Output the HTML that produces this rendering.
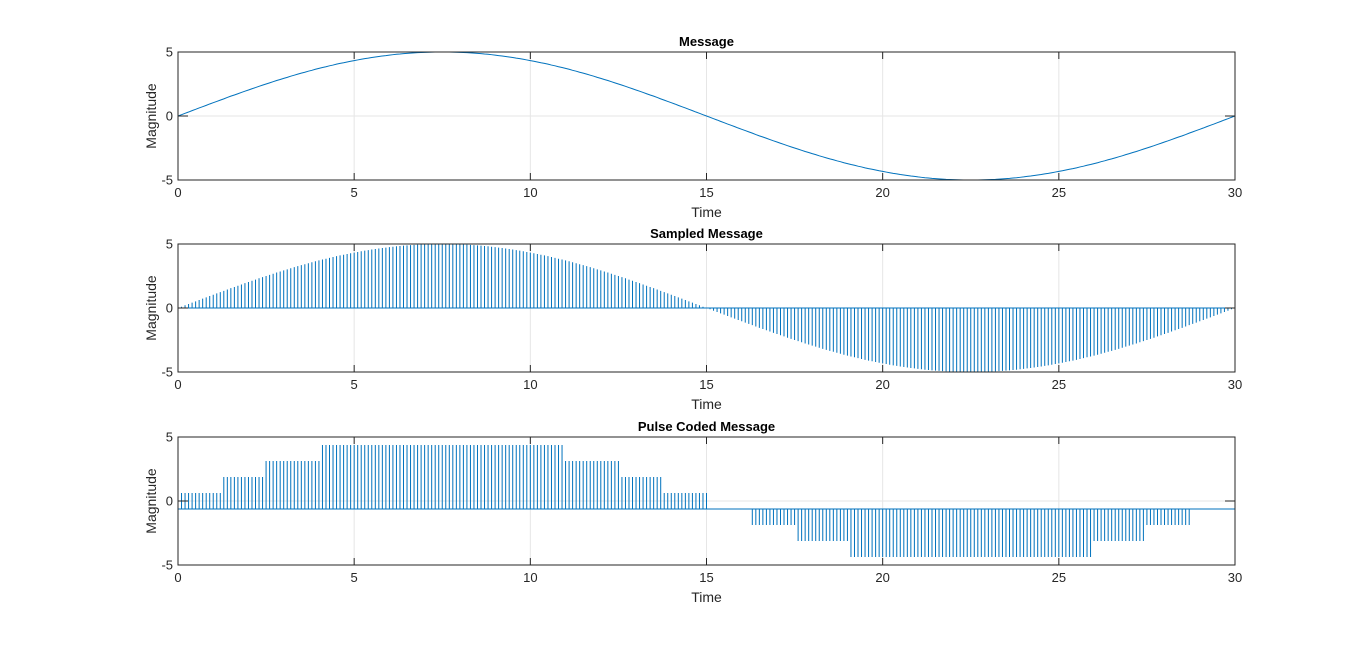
<!DOCTYPE html>
<html><head><meta charset="utf-8"><style>
body{margin:0;background:#fff;}
svg text{font-family:"Liberation Sans",Arial,sans-serif;}
</style></head><body>
<svg id="fig" width="1366" height="642" viewBox="0 0 1366 642" xmlns="http://www.w3.org/2000/svg"></svg>
<script>
const xTicks=[0,5,10,15,20,25,30];
const yTicks=[-5,0,5];
const sampleStep=0.1;
const firstHalf=[0,0.1,0.21,0.31,0.42,0.52,0.63,0.73,0.83,0.94,1.04,1.14,1.24,1.34,1.45,1.55,1.64,1.74,1.84,1.94,2.03,2.13,2.22,2.32,2.41,2.5,2.59,2.68,2.77,2.85,2.94,3.02,3.11,3.19,3.27,3.35,3.42,3.5,3.57,3.65,3.72,3.79,3.85,3.92,3.98,4.05,4.11,4.16,4.22,4.28,4.33,4.38,4.43,4.48,4.52,4.57,4.61,4.65,4.69,4.72,4.76,4.79,4.82,4.84,4.87,4.89,4.91,4.93,4.95,4.96,4.97,4.98,4.99,5,5,5,
5,5,4.99,4.98,4.97,4.96,4.95,4.93,4.91,4.89,4.87,4.84,4.82,4.79,4.76,4.72,4.69,4.65,4.61,4.57,4.52,4.48,4.43,4.38,4.33,4.28,4.22,4.16,4.11,4.05,3.98,3.92,3.85,3.79,3.72,3.65,3.57,3.5,3.42,3.35,3.27,3.19,3.11,3.02,2.94,2.85,2.77,2.68,2.59,2.5,2.41,2.32,2.22,2.13,2.03,1.94,1.84,1.74,1.64,1.55,1.45,1.34,1.24,1.14,1.04,0.94,0.83,0.73,0.63,0.52,0.42,0.31,0.21,0.1,0.001];
const secondHalf=[-0.1,-0.21,-0.31,-0.42,-0.52,-0.63,-0.73,-0.83,-0.94,-1.04,-1.14,-1.24,-1.34,-1.45,-1.55,-1.64,-1.74,-1.84,-1.94,-2.03,-2.13,-2.22,-2.32,-2.41,-2.5,-2.59,-2.68,-2.77,-2.85,-2.94,-3.02,-3.11,-3.19,-3.27,-3.35,-3.42,-3.5,-3.57,-3.65,-3.72,-3.79,-3.85,-3.92,-3.98,-4.05,-4.11,-4.16,-4.22,-4.28,-4.33,-4.38,-4.43,-4.48,-4.52,-4.57,-4.61,-4.65,-4.69,-4.72,-4.76,-4.79,-4.82,-4.84,-4.87,-4.89,-4.91,-4.93,-4.95,-4.96,-4.97,-4.98,-4.99,-5,-5,-5,
-5,-5,-4.99,-4.98,-4.97,-4.96,-4.95,-4.93,-4.91,-4.89,-4.87,-4.84,-4.82,-4.79,-4.76,-4.72,-4.69,-4.65,-4.61,-4.57,-4.52,-4.48,-4.43,-4.38,-4.33,-4.28,-4.22,-4.16,-4.11,-4.05,-3.98,-3.92,-3.85,-3.79,-3.72,-3.65,-3.57,-3.5,-3.42,-3.35,-3.27,-3.19,-3.11,-3.02,-2.94,-2.85,-2.77,-2.68,-2.59,-2.5,-2.41,-2.32,-2.22,-2.13,-2.03,-1.94,-1.84,-1.74,-1.64,-1.55,-1.45,-1.34,-1.24,-1.14,-1.04,-0.94,-0.83,-0.73,-0.63,-0.52,-0.42,-0.31,-0.21,-0.1,0];
const samples=firstHalf.concat(secondHalf);
const quantLevels=[-4.375,-3.125,-1.875,-0.625,0.625,1.875,3.125,4.375];
const pcmBaseline=-0.625;

const NS="http://www.w3.org/2000/svg";
const svg=document.getElementById('fig');
function mk(tag,attrs,parent){const e=document.createElementNS(NS,tag);for(const k in attrs)e.setAttribute(k,attrs[k]);(parent||svg).appendChild(e);return e;}
const X0=178,X1=1235;
function quant(v){let i=Math.floor((v+5)/1.25);i=Math.max(0,Math.min(7,i));return quantLevels[i];}
const pcm=samples.map(quant);

const panels=[
 {name:'message',title:'Message',top:52,type:'line',vals:samples,base:0},
 {name:'sampled',title:'Sampled Message',top:244,type:'stem',vals:samples,base:0},
 {name:'pcm',title:'Pulse Coded Message',top:437,type:'stem',vals:pcm,base:pcmBaseline}
];
panels.forEach(p=>{
 const top=p.top,bot=top+128;
 const xs=t=>X0+(t-0)/(30-0)*(X1-X0);
 const ys=v=>bot-(v+5)/10*(bot-top);
 const g=mk('g',{});
 
 
 mk('rect',{x:X0,y:top,width:X1-X0,height:bot-top,fill:'#fff'},g);
 xTicks.forEach(t=>{const l=mk('line',{x1:xs(t),x2:xs(t),y1:top,y2:bot,stroke:'#e6e6e6','stroke-width':1},g);});
 yTicks.forEach(v=>{const l=mk('line',{x1:X0,x2:X1,y1:ys(v),y2:ys(v),stroke:'#e6e6e6','stroke-width':1},g);});
 const dg=mk('g',{stroke:'#0072BD','stroke-width':1,fill:'none'},g);
 
 
 if(p.type==='line'){
  const pts=p.vals.map((v,i)=>xs(i*sampleStep).toFixed(2)+','+ys(v).toFixed(2)).join(' ');
  const pl=mk('polyline',{points:pts},dg);
  
  
 }else{
  let d='';
  p.vals.forEach((v,i)=>{const x=xs(i*sampleStep).toFixed(2);d+='M'+x+' '+ys(p.base).toFixed(2)+'V'+ys(v).toFixed(2);});
  const st=mk('path',{d:d},dg);
  
  
  const bl=mk('line',{x1:X0,x2:X1,y1:ys(p.base),y2:ys(p.base)},dg);
  
  
 }
 mk('rect',{x:X0,y:top,width:X1-X0,height:bot-top,fill:'none',stroke:'#262626','stroke-width':1},g);
 xTicks.forEach(t=>{
  mk('line',{x1:xs(t),x2:xs(t),y1:bot,y2:bot-7,stroke:'#262626'},g);
  mk('line',{x1:xs(t),x2:xs(t),y1:top,y2:top+7,stroke:'#262626'},g);
  const tx=mk('text',{x:xs(t),y:bot+17,'font-size':13,'text-anchor':'middle',fill:'#262626'},g);tx.textContent=t;
  
 });
 yTicks.forEach(v=>{
  mk('line',{x1:X0,x2:X0+10,y1:ys(v),y2:ys(v),stroke:'#262626'},g);
  mk('line',{x1:X1,x2:X1-10,y1:ys(v),y2:ys(v),stroke:'#262626'},g);
  const tx=mk('text',{x:X0-5,y:ys(v)+4.5,'font-size':13,'text-anchor':'end',fill:'#262626'},g);tx.textContent=v;
  
 });
 const ti=mk('text',{x:(X0+X1)/2,y:top-6,'font-size':13,'font-weight':'bold','text-anchor':'middle',fill:'#000'},g);ti.textContent=p.title;
 
 const xl=mk('text',{x:(X0+X1)/2,y:bot+37,'font-size':14,'text-anchor':'middle',fill:'#262626'},g);xl.textContent='Time';
 
 const yl=mk('text',{x:0,y:0,'font-size':14,'text-anchor':'middle',fill:'#262626',transform:'translate(156,'+((top+bot)/2)+') rotate(-90)'},g);yl.textContent='Magnitude';
 
});
</script>
</body></html>
